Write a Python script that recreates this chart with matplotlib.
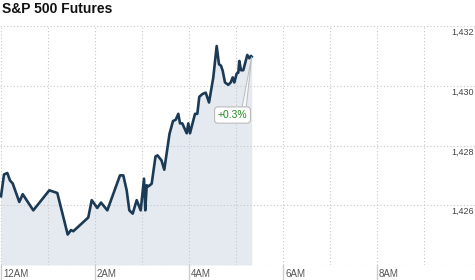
import matplotlib
matplotlib.use("Agg")
import matplotlib.pyplot as plt
from matplotlib.patches import Polygon

# ---- data (hours after midnight, index level) ----
times = [0.000, 0.064, 0.134, 0.191, 0.249, 0.389, 0.462, 0.687, 1.028, 1.198,
         1.419, 1.489, 1.538, 1.857, 1.930, 2.049, 2.128, 2.262, 2.532, 2.602,
         2.674, 2.730, 2.802, 2.887, 2.972, 3.043, 3.070, 3.100, 3.134, 3.206,
         3.287, 3.330, 3.415, 3.474, 3.585, 3.660, 3.717, 3.772, 3.809, 3.857,
         3.951, 3.985, 4.021, 4.128, 4.177, 4.219, 4.283, 4.355, 4.426, 4.517,
         4.589, 4.638, 4.681, 4.717, 4.766, 4.836, 4.887, 4.930, 4.964, 5.015,
         5.049, 5.070, 5.106, 5.155, 5.240, 5.283, 5.319, 5.334]
values = [1426.30, 1427.03, 1427.08, 1426.83, 1426.73, 1426.11, 1426.37, 1425.83, 1426.50, 1426.41,
          1425.02, 1425.17, 1425.13, 1425.59, 1426.17, 1425.91, 1426.09, 1425.83, 1427.00, 1427.00,
          1426.50, 1425.83, 1425.72, 1426.17, 1425.83, 1426.89, 1425.83, 1426.67, 1426.63, 1426.72,
          1427.63, 1427.67, 1427.50, 1427.19, 1428.39, 1428.82, 1428.86, 1429.06, 1428.74, 1428.74,
          1428.41, 1428.74, 1428.41, 1429.06, 1429.06, 1429.63, 1429.72, 1429.77, 1429.44, 1430.28,
          1431.33, 1430.72, 1430.67, 1430.50, 1430.11, 1430.03, 1430.11, 1430.28, 1430.11, 1430.41,
          1430.44, 1430.83, 1430.52, 1430.52, 1431.03, 1430.92, 1431.00, 1430.97]
x_ticks = [0, 2, 4, 6, 8]
x_labels = ["12AM", "2AM", "4AM", "6AM", "8AM"]
y_ticks = [1426, 1428, 1430, 1432]
y_labels = ["1,426", "1,428", "1,430", "1,432"]
title = "S&P 500 Futures"
change_label = "+0.3%"

plt.rcParams['font.family'] = ['Liberation Sans', 'DejaVu Sans']

W, H = 475, 280
fig = plt.figure(figsize=(W / 100, H / 100), dpi=100)
ax = fig.add_axes([0, (H - 265) / H, 1, (265 - 26) / H])
ax.set_xlim(-1 / 47, 474 / 47)
ax.set_ylim(1424, 1432)
for s in ax.spines.values():
    s.set_visible(False)
ax.set_xticks([])
ax.set_yticks([])

grid_kw = dict(color='#c8c8c8', lw=0.8, ls=(0, (1, 2)), zorder=2)
for h in range(0, 10):
    ax.axvline(h, **grid_kw)
for v in range(1424, 1433, 2):
    ax.axhline(v, **grid_kw)

ax.fill_between(times, values, 1424, color='#e5eaf1', lw=0, zorder=1)
ax.plot(times, values, color='#1b3a55', lw=1.9, solid_joinstyle='round', zorder=3)

# x tick marks & labels below the axis
for h, lab in zip(x_ticks, x_labels):
    ax.plot([h, h], [0, -15 / 239], transform=ax.get_xaxis_transform(),
            color='#cccccc', lw=1, clip_on=False, zorder=2)
    ax.annotate(lab, xy=(h, 0), xycoords=('data', 'axes fraction'),
                xytext=(2, -9), textcoords='offset pixels',
                ha='left', va='center', fontsize=7, color='#555555')

# y labels inside, right
for v, lab in zip(y_ticks, y_labels):
    ax.annotate(lab, xy=(1, v), xycoords=('axes fraction', 'data'),
                xytext=(-1, -2), textcoords='offset pixels',
                ha='right', va='top', fontsize=6.5, color='#444444')

# callout
t_end, v_end = times[-1], values[-1]
wedge = Polygon([(t_end, v_end), (5.117, 1429.2), (5.213, 1429.2)], closed=True,
                facecolor='#f4f6f9', edgecolor='#bbbbbb', lw=0.7, zorder=4)
ax.add_patch(wedge)
ax.text(4.926, 1429.02, change_label, ha='center', va='center', fontsize=7.5,
        color='#228B22', zorder=5,
        bbox=dict(boxstyle='round,pad=0.3,rounding_size=0.3', fc='white', ec='#bbbbbb', lw=0.8))

fig.text(2 / W, 1 - 2 / H, title, ha='left', va='top', fontsize=10,
         fontweight='bold', color='#111111')

fig.savefig('out.png', dpi=100)
